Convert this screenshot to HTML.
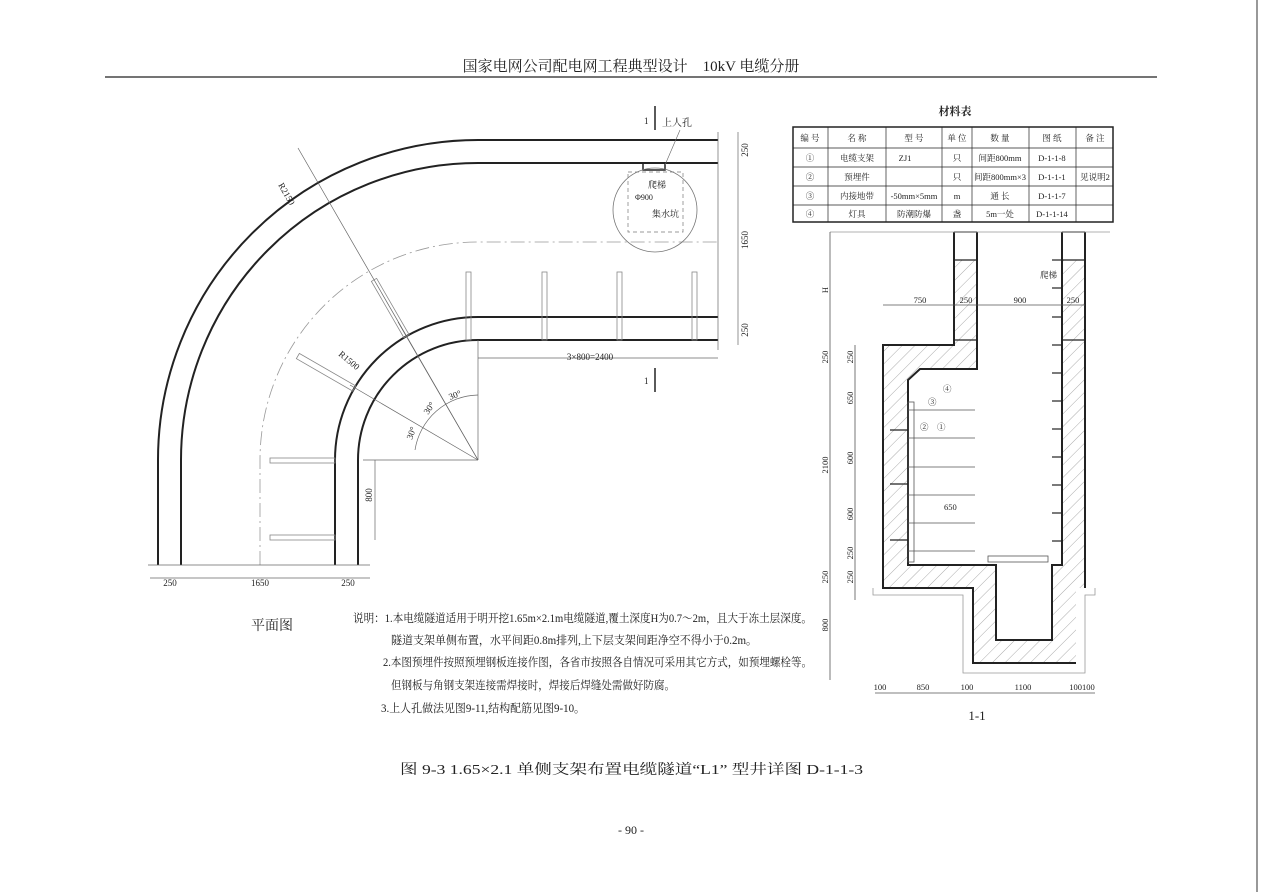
<!DOCTYPE html>
<html><head><meta charset="utf-8"><style>
html,body{margin:0;padding:0;background:#fff}
svg{display:block}
text{font-family:"Liberation Serif","Noto Serif CJK SC",serif;fill:#222}
</style></head><body>
<svg width="1262" height="892" viewBox="0 0 1262 892" xmlns="http://www.w3.org/2000/svg">
<defs>
<pattern id="h" width="9" height="9" patternUnits="userSpaceOnUse" patternTransform="rotate(45)">
<line x1="0" y1="0" x2="0" y2="9" stroke="#888" stroke-width="0.7"/>
</pattern>
</defs>
<rect width="1262" height="892" fill="#fff"/>
<line x1="1257" y1="0" x2="1257" y2="892" stroke="#555" stroke-width="1.2"/>
<text x="631" y="71" font-size="15" text-anchor="middle">国家电网公司配电网工程典型设计　10kV 电缆分册</text>
<line x1="105" y1="77" x2="1157" y2="77" stroke="#222" stroke-width="1.2"/>

<!-- PLAN -->
<g fill="none" stroke="#222" stroke-width="2">
<path d="M158 565 V460 A320 320 0 0 1 478 140 H718"/>
<path d="M181 565 V460 A297 297 0 0 1 478 163 H718"/>
<path d="M335 565 V460 A143 143 0 0 1 478 317 H718"/>
<path d="M358 565 V460 A120 120 0 0 1 478 340 H718"/>
</g>
<path d="M260 565 V460 A218 218 0 0 1 478 242 H718" fill="none" stroke="#999" stroke-width="0.8" stroke-dasharray="14 4 2 4"/>
<g stroke="#888" stroke-width="0.8" fill="none">
<rect x="466" y="272" width="5" height="68"/>
<rect x="542" y="272" width="5" height="68"/>
<rect x="617" y="272" width="5" height="68"/>
<rect x="692" y="272" width="5" height="68"/>
<rect x="270" y="458" width="65" height="5"/>
<rect x="270" y="535" width="65" height="5"/>
<rect x="270" y="457" width="65" height="6" transform="rotate(30 478 460)"/>
<rect x="270" y="457" width="65" height="6" transform="rotate(60 478 460)"/>
</g>
<g stroke="#666" stroke-width="0.7">
<line x1="478" y1="460" x2="298" y2="148"/>
<line x1="478" y1="460" x2="350" y2="385"/>
<line x1="478" y1="460" x2="398" y2="322"/>
<line x1="478" y1="460" x2="363" y2="460"/>
<line x1="478" y1="460" x2="478" y2="340"/>
<line x1="718" y1="132" x2="718" y2="350"/>
<line x1="738" y1="132" x2="738" y2="345"/>
<line x1="478" y1="358" x2="718" y2="358"/>
<line x1="150" y1="578" x2="370" y2="578"/>
<line x1="375" y1="460" x2="375" y2="540"/>
<line x1="148" y1="565" x2="370" y2="565"/>
</g>
<path d="M415 450 A65 65 0 0 1 478 395" fill="none" stroke="#666" stroke-width="0.7"/>
<g font-size="9">
<text x="590" y="360" text-anchor="middle">3×800=2400</text>
<text transform="translate(748 150) rotate(-90)" text-anchor="middle">250</text>
<text transform="translate(748 240) rotate(-90)" text-anchor="middle">1650</text>
<text transform="translate(748 330) rotate(-90)" text-anchor="middle">250</text>
<text x="170" y="586" text-anchor="middle">250</text>
<text x="260" y="586" text-anchor="middle">1650</text>
<text x="348" y="586" text-anchor="middle">250</text>
<text transform="translate(372 495) rotate(-90)" text-anchor="middle">800</text>
<text transform="translate(278 185) rotate(60)">R2150</text>
<text transform="translate(338 355) rotate(40)">R1500</text>
<text transform="translate(450 400) rotate(-20)">30°</text>
<text transform="translate(428 415) rotate(-55)">30°</text>
<text transform="translate(412 440) rotate(-70)">30°</text>
<text x="662" y="126" font-size="10">上人孔</text>
<text x="648" y="188">爬梯</text>
<text x="635" y="200" font-size="8">Φ900</text>
<text x="652" y="217">集水坑</text>
<text x="644" y="124">1</text>
<text x="644" y="384">1</text>
</g>
<line x1="655" y1="106" x2="655" y2="130" stroke="#222" stroke-width="1.5"/>
<line x1="655" y1="368" x2="655" y2="392" stroke="#222" stroke-width="1.5"/>
<rect x="643" y="163" width="22" height="7" fill="none" stroke="#222" stroke-width="1.5"/>
<circle cx="655" cy="210" r="42" fill="none" stroke="#777" stroke-width="0.8"/>
<rect x="628" y="172" width="55" height="60" fill="none" stroke="#777" stroke-width="0.7" stroke-dasharray="4 3"/>
<line x1="680" y1="130" x2="665" y2="165" stroke="#666" stroke-width="0.6"/>
<text x="272" y="630" font-size="14" text-anchor="middle">平面图</text>

<!-- Notes -->
<g font-size="11.5">
<text x="353" y="622" textLength="459" lengthAdjust="spacingAndGlyphs">说明：1.本电缆隧道适用于明开挖1.65m×2.1m电缆隧道,覆土深度H为0.7～2m，且大于冻土层深度。</text>
<text x="391" y="644" textLength="366" lengthAdjust="spacingAndGlyphs">隧道支架单侧布置，水平间距0.8m排列,上下层支架间距净空不得小于0.2m。</text>
<text x="383" y="666" textLength="429" lengthAdjust="spacingAndGlyphs">2.本图预埋件按照预埋钢板连接作图，各省市按照各自情况可采用其它方式，如预埋螺栓等。</text>
<text x="391" y="689" textLength="284" lengthAdjust="spacingAndGlyphs">但钢板与角钢支架连接需焊接时，焊接后焊缝处需做好防腐。</text>
<text x="381" y="712" textLength="204" lengthAdjust="spacingAndGlyphs">3.上人孔做法见图9-11,结构配筋见图9-10。</text>
</g>

<!-- Table -->
<text x="955" y="115" font-size="11" text-anchor="middle" font-family="Liberation Sans,Noto Sans CJK SC,sans-serif" font-weight="bold">材料表</text>
<g stroke="#222" fill="none">
<rect x="793" y="127" width="320" height="95" stroke-width="1.5"/>
<g stroke-width="0.7">
<line x1="793" y1="148" x2="1113" y2="148"/>
<line x1="793" y1="167" x2="1113" y2="167"/>
<line x1="793" y1="186" x2="1113" y2="186"/>
<line x1="793" y1="205" x2="1113" y2="205"/>
<line x1="828" y1="127" x2="828" y2="222"/>
<line x1="886" y1="127" x2="886" y2="222"/>
<line x1="942" y1="127" x2="942" y2="222"/>
<line x1="972" y1="127" x2="972" y2="222"/>
<line x1="1029" y1="127" x2="1029" y2="222"/>
<line x1="1076" y1="127" x2="1076" y2="222"/>
</g></g>
<g font-size="8.5" text-anchor="middle">
<text x="810" y="141">编 号</text><text x="857" y="141">名 称</text><text x="914" y="141">型 号</text><text x="957" y="141">单 位</text><text x="1000" y="141">数 量</text><text x="1052" y="141">图 纸</text><text x="1095" y="141">备 注</text>
<text x="810" y="161">①</text><text x="857" y="161">电缆支架</text><text x="905" y="161">ZJ1</text><text x="957" y="161">只</text><text x="1000" y="161">间距800mm</text><text x="1052" y="161">D-1-1-8</text>
<text x="810" y="180">②</text><text x="857" y="180">预埋件</text><text x="957" y="180">只</text><text x="1000" y="180">间距800mm×3</text><text x="1052" y="180">D-1-1-1</text><text x="1095" y="180">见说明2</text>
<text x="810" y="199">③</text><text x="857" y="199">内接地带</text><text x="914" y="199">-50mm×5mm</text><text x="957" y="199">m</text><text x="1000" y="199">通 长</text><text x="1052" y="199">D-1-1-7</text>
<text x="810" y="217">④</text><text x="857" y="217">灯具</text><text x="914" y="217">防潮防爆</text><text x="957" y="217">盏</text><text x="1000" y="217">5m一处</text><text x="1052" y="217">D-1-1-14</text>
</g>

<!-- SECTION 1-1 -->
<path d="M883 345 H954 V232 H977 V369 H920 L908 380 V565 H996 V640 H1052 V565 H1062 V232 H1085 V588 H1076 V663 H973 V588 H883 Z" fill="url(#h)" stroke="none"/>
<rect x="954" y="232" width="23" height="28" fill="#fff"/>
<rect x="1062" y="232" width="23" height="28" fill="#fff"/>
<g fill="none" stroke="#222" stroke-width="2">
<path d="M954 232 V345 H883 V588 H973 V663 H1076"/>
<path d="M977 232 V369 H920 L908 380 V565 H996 V640 H1052 V565 H1062 V232"/>
<path d="M1085 232 V588"/>
<line x1="954" y1="232" x2="977" y2="232" stroke-width="1.2"/>
<line x1="1062" y1="232" x2="1085" y2="232" stroke-width="1.2"/>
<line x1="954" y1="260" x2="977" y2="260" stroke-width="1.2"/>
<line x1="1062" y1="260" x2="1085" y2="260" stroke-width="1.2"/>
<line x1="954" y1="340" x2="977" y2="340" stroke-width="1.2"/>
<line x1="1062" y1="340" x2="1085" y2="340" stroke-width="1.2"/>
</g>
<path d="M873 588 V595 H963 V673 H1085 V595 H1095 V588" fill="none" stroke="#999" stroke-width="0.8"/>
<g stroke="#222" stroke-width="1.2">
<line x1="1052" y1="260" x2="1062" y2="260"/><line x1="1052" y1="288" x2="1062" y2="288"/><line x1="1052" y1="317" x2="1062" y2="317"/><line x1="1052" y1="345" x2="1062" y2="345"/><line x1="1052" y1="373" x2="1062" y2="373"/><line x1="1052" y1="401" x2="1062" y2="401"/><line x1="1052" y1="429" x2="1062" y2="429"/><line x1="1052" y1="457" x2="1062" y2="457"/><line x1="1052" y1="485" x2="1062" y2="485"/><line x1="1052" y1="513" x2="1062" y2="513"/><line x1="1052" y1="541" x2="1062" y2="541"/>
</g>
<g stroke="#555" stroke-width="0.8" fill="none">
<rect x="908" y="402" width="6" height="160"/>
<path d="M908 410 H975 M908 438 H975 M908 467 H975 M908 495 H975 M908 523 H975 M908 551 H975"/>
<rect x="988" y="556" width="60" height="6"/>
<path d="M890 430 H908 M890 484 H908 M890 540 H908" stroke="#222" stroke-width="1.2"/>
<line x1="830" y1="232" x2="1110" y2="232" stroke="#999"/>
<line x1="830" y1="232" x2="830" y2="680"/>
<line x1="855" y1="345" x2="855" y2="600"/>
<line x1="883" y1="305" x2="1085" y2="305"/>
<line x1="875" y1="693" x2="1095" y2="693"/>
</g>
<g font-size="8.5">
<text x="920" y="303" text-anchor="middle">750</text><text x="966" y="303" text-anchor="middle">250</text><text x="1020" y="303" text-anchor="middle">900</text><text x="1073" y="303" text-anchor="middle">250</text>
<text x="1040" y="278">爬梯</text>
<text x="943" y="392">④</text><text x="928" y="405">③</text><text x="920" y="430">②</text><text x="937" y="430">①</text>
<text x="944" y="510">650</text>
<text x="880" y="690" text-anchor="middle">100</text><text x="923" y="690" text-anchor="middle">850</text><text x="967" y="690" text-anchor="middle">100</text><text x="1023" y="690" text-anchor="middle">1100</text><text x="1082" y="690" text-anchor="middle">100100</text>
<text transform="translate(828 290) rotate(-90)" text-anchor="middle">H</text>
<text transform="translate(828 357) rotate(-90)" text-anchor="middle">250</text>
<text transform="translate(853 357) rotate(-90)" text-anchor="middle">250</text>
<text transform="translate(828 465) rotate(-90)" text-anchor="middle">2100</text>
<text transform="translate(853 398) rotate(-90)" text-anchor="middle">650</text>
<text transform="translate(853 458) rotate(-90)" text-anchor="middle">600</text>
<text transform="translate(853 514) rotate(-90)" text-anchor="middle">600</text>
<text transform="translate(853 553) rotate(-90)" text-anchor="middle">250</text>
<text transform="translate(828 577) rotate(-90)" text-anchor="middle">250</text>
<text transform="translate(853 577) rotate(-90)" text-anchor="middle">250</text>
<text transform="translate(828 625) rotate(-90)" text-anchor="middle">800</text>
</g>
<text x="977" y="720" font-size="13" text-anchor="middle">1-1</text>

<text x="400" y="774" font-size="14" textLength="463" lengthAdjust="spacingAndGlyphs">图 9-3  1.65×2.1 单侧支架布置电缆隧道“L1”  型井详图  D-1-1-3</text>
<text x="631" y="834" font-size="12" text-anchor="middle">- 90 -</text>
</svg>
</body></html>
